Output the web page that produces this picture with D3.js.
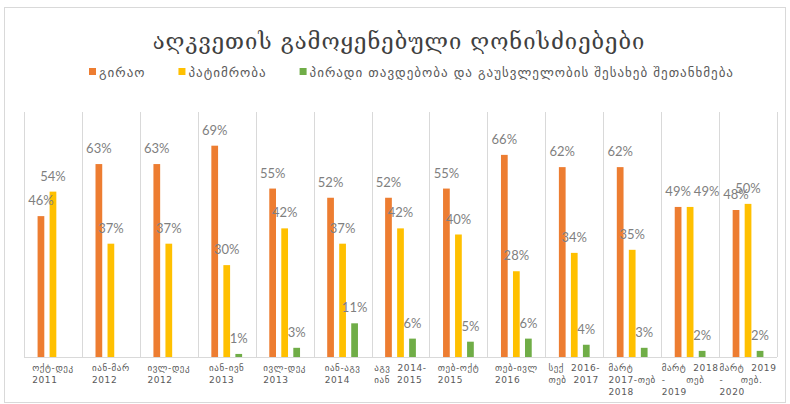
<!DOCTYPE html>
<html>
<head>
<meta charset="utf-8">
<script src="https://cdn.jsdelivr.net/npm/d3@7"></script>
<style>
  body { margin: 0; background: #fff; }
  svg { display: block; }
</style>
</head>
<body>
<script>
const title = 'აღკვეთის გამოყენებული ღონისძიებები';

const periods = [
  ['ოქტ-დეკ', '2011'],
  ['იან-მარ', '2012'],
  ['ივლ-დეკ', '2012'],
  ['იან-ივნ', '2013'],
  ['ივლ-დეკ', '2013'],
  ['იან-აგვ', '2014'],
  ['აგვ  2014-', 'იან  2015'],
  ['თებ-ოქტ', '2015'],
  ['თებ-ივლ', '2016'],
  ['სექ  2016-', 'თებ  2017'],
  ['მარტ', '2017-თებ', '2018'],
  ['მარტ  2018', '-      თებ', '2019'],
  ['მარტ  2019', '-     თებ.', '2020']
];

const seriesNames = ['გირაო', 'პატიმრობა', 'პირადი თავდებობა და გაუსვლელობის შესახებ შეთანხმება'];
const bail = [46, 63, 63, 69, 55, 52, 52, 55, 66, 62, 62, 49, 48];
const detention = [54, 37, 37, 30, 42, 37, 42, 40, 28, 34, 35, 49, 50];
const surety = [null, null, null, 1, 3, 11, 6, 5, 6, 4, 3, 2, 2];
const colors = ['#ED7D31', '#FFC000', '#70AD47'];

const width = 790;
const height = 404;
const plot = { left: 24, right: 777, top: 112, bottom: 357 };

const svg = d3.select('body').append('svg')
  .attr('width', width)
  .attr('height', height);

// chart frame
svg.append('rect')
  .attr('x', 4.5).attr('y', 7.5)
  .attr('width', 781).attr('height', 395)
  .attr('fill', 'none')
  .attr('stroke', '#d9d9d9');

svg.append('text')
  .attr('x', 399)
  .attr('y', 49)
  .attr('text-anchor', 'middle')
  .style('font-family', 'DejaVu Serif, DejaVu Sans')
  .style('font-size', '22px')
  .style('letter-spacing', '1px')
  .style('fill', '#404040')
  .text(title);

// legend
const legend = svg.append('g').attr('transform', 'translate(89, 72)');
let lx = 0;
seriesNames.forEach((name, i) => {
  const item = legend.append('g').attr('transform', `translate(${lx}, 0)`);
  item.append('rect')
    .attr('x', 0).attr('y', -4)
    .attr('width', 7).attr('height', 7)
    .attr('fill', colors[i]);
  const t = item.append('text')
    .attr('x', 10).attr('y', 4.5)
    .style('font-family', 'DejaVu Sans')
    .style('font-size', '13px')
    .style('letter-spacing', '1px')
    .style('fill', '#595959')
    .text(name);
  lx += 10 + t.node().getComputedTextLength() + 33;
});

const x = d3.scaleBand()
  .domain(d3.range(periods.length))
  .range([plot.left, plot.right])
  .padding(0);

const xInner = d3.scaleBand()
  .domain([0, 1, 2])
  .range([0, x.bandwidth()])
  .paddingInner(0.44)
  .paddingOuter(1.13);

const y = d3.scaleLinear()
  .domain([0, 80])
  .range([plot.bottom, plot.top]);

// category separators
svg.append('g')
  .selectAll('line')
  .data(d3.range(periods.length + 1))
  .enter()
  .append('line')
  .attr('x1', (d) => Math.round(plot.left + d * x.step()) + 0.5)
  .attr('x2', (d) => Math.round(plot.left + d * x.step()) + 0.5)
  .attr('y1', y(80))
  .attr('y2', y(0))
  .attr('stroke', '#d9d9d9');

svg.append('line')
  .attr('x1', plot.left).attr('x2', plot.right)
  .attr('y1', y(0) + 0.5).attr('y2', y(0) + 0.5)
  .attr('stroke', '#d9d9d9');

const series = [bail, detention, surety];
const points = [];
series.forEach((values, s) => {
  values.forEach((v, i) => {
    if (v !== null) points.push({ s: s, i: i, v: v });
  });
});

svg.append('g')
  .selectAll('rect')
  .data(points)
  .enter()
  .append('rect')
  .attr('x', (d) => x(d.i) + xInner(d.s))
  .attr('y', (d) => y(d.v))
  .attr('width', xInner.bandwidth())
  .attr('height', (d) => y(0) - y(d.v))
  .attr('fill', (d) => colors[d.s]);

const valueLabels = svg.append('g')
  .selectAll('text')
  .data(points)
  .enter()
  .append('text')
  .attr('x', (d) => x(d.i) + xInner(d.s) + xInner.bandwidth() / 2)
  .attr('y', (d) => y(d.v) - 11)
  .attr('text-anchor', 'middle')
  .style('font-family', 'Lato')
  .style('font-size', '13px')
  .style('fill', '#7f7f7f')
  .text((d) => d.v + '%');

// push a label right when it sits exactly on its neighbour (the 49% 49% pair)
const placed = [];
valueLabels.each(function (d) {
  const box = this.getBBox();
  const prev = placed.find((p) => p.d.i === d.i && Math.abs(p.box.y - box.y) < 3 &&
    p.box.x + p.box.width > box.x);
  if (prev) {
    const shift = prev.box.x + prev.box.width + 3 - box.x;
    d3.select(this).attr('x', +d3.select(this).attr('x') + shift);
    box.x += shift;
  }
  placed.push({ d: d, box: { x: box.x, y: box.y, width: box.width } });
});

// category labels, lines left-aligned inside a centred block
const labels = svg.append('g')
  .style('font-family', 'DejaVu Sans')
  .style('font-size', '9px')
  .style('letter-spacing', '0.6px')
  .style('fill', '#595959');

periods.forEach((lines, i) => {
  const t = labels.append('text').attr('xml:space', 'preserve');
  lines.forEach((line, k) => {
    t.append('tspan')
      .attr('y', 371 + k * 12)
      .text(line);
  });
  const w = d3.max(t.selectAll('tspan').nodes(), (n) => n.getComputedTextLength());
  t.selectAll('tspan').attr('x', x(i) + x.bandwidth() / 2 - w / 2);
});
</script>
</body>
</html>
